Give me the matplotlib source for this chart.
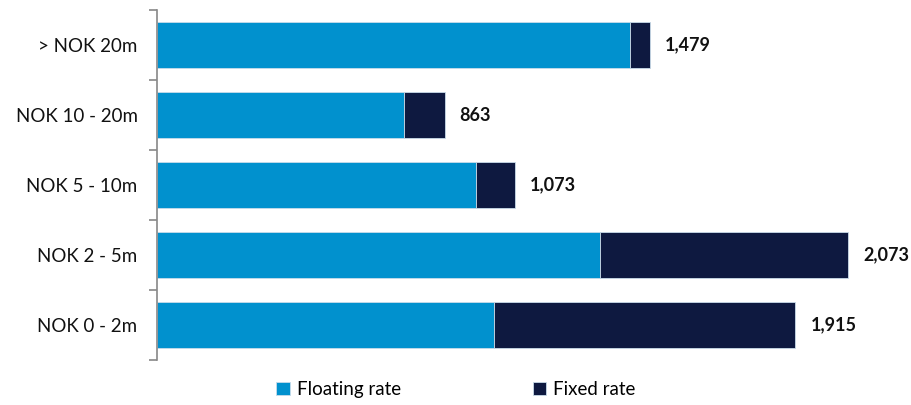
import matplotlib.pyplot as plt
import numpy as np

# ========= 数据 =========
categories = ["> NOK 20m", "NOK 10 - 20m", "NOK 5 - 10m", "NOK 2 - 5m", "NOK 0 - 2m"]
floating = [1419, 741, 957, 1329, 1011]
fixed = [60, 122, 116, 744, 904]
totals = [1479, 863, 1073, 2073, 1915]

c_float = "#0191CE"
c_fixed = "#0E1940"

plt.rcParams["font.family"] = ["Lato", "DejaVu Sans"]

fig = plt.figure(figsize=(9.12, 4.05), dpi=100)
ax = fig.add_axes([157 / 912, 45 / 405, (900 - 157) / 912, 350 / 405])

y = np.arange(len(categories))
h = 0.67
ax.barh(y, floating, height=h, color=c_float, edgecolor="#c9dcea", linewidth=0.6, label="Floating rate")
ax.barh(y, fixed, left=floating, height=h, color=c_fixed, edgecolor="#c9dcea", linewidth=0.6, label="Fixed rate")

for yi, t in zip(y, totals):
    ax.text(t + 45, yi, f"{t:,}", va="center", ha="left", fontsize=13, fontweight="bold", color="#111111")

ax.set_ylim(len(categories) - 0.5, -0.5)
ax.set_xlim(0, 2229)
ax.set_yticks(y)
ax.set_yticklabels(categories, fontsize=13.5, color="#111111")
ax.set_yticks(np.arange(-0.5, len(categories), 1), minor=True)
ax.tick_params(axis="y", which="major", length=0, pad=14)
ax.tick_params(axis="y", which="minor", length=6, color="#888888", width=1.2)
ax.set_xticks([])
for s in ["top", "right", "bottom"]:
    ax.spines[s].set_visible(False)
ax.spines["left"].set_color("#888888")
ax.spines["left"].set_linewidth(1.2)

fig.legend(loc="lower center", bbox_to_anchor=(0.5, -0.025), ncol=2, frameon=False,
           fontsize=13.5, handlelength=0.7, handleheight=0.7, handletextpad=0.4,
           columnspacing=7.0)

fig.savefig("out.png", dpi=100)
